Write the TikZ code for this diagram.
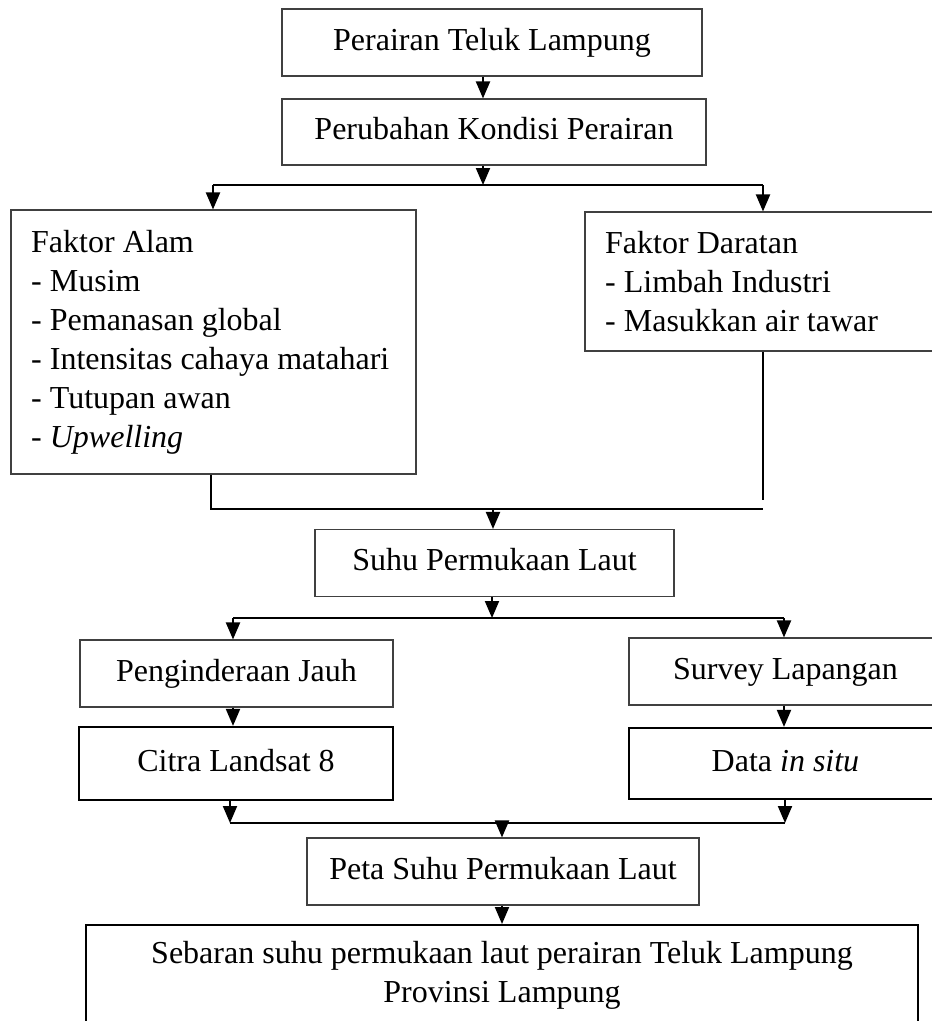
\documentclass[tikz,border=0pt]{standalone}
\usepackage{fontspec}
\setmainfont{Liberation Serif}
\usetikzlibrary{arrows.meta}
\tikzset{
  txt/.style={font=\fontsize{32pt}{39pt}\selectfont},
  thinbox/.style={txt, draw=black!75, line width=1.1pt, inner sep=0pt, text height=22pt, text depth=7pt},
  thickbox/.style={txt, draw=black, line width=2.2pt, inner sep=0pt, text height=22pt, text depth=7pt},
  plainbox/.style={draw=black!75, line width=1.1pt, inner sep=0pt},
  listtxt/.style={txt, align=left, inner sep=0pt, anchor=west},
  conn/.style={line width=2pt, draw=black},
  arr/.style={conn, -{Triangle[width=14pt,length=17pt]}},
}
\begin{document}
\begin{tikzpicture}[x=1pt,y=-1pt]
\clip (0,0) rectangle (932,1021);
\fill[white] (0,0) rectangle (932,1021);
% boxes
\node[thinbox, minimum width=420pt, minimum height=67pt] (b1) at (492,42.5) {Perairan Teluk Lampung};
\node[thinbox, minimum width=424pt, minimum height=66pt] (b2) at (494,132) {Perubahan Kondisi Perairan};
\node[plainbox, minimum width=405pt, minimum height=264pt] (alam) at (213.5,342) {};
\node[listtxt] (alamtxt) at (31,342)
  {Faktor Alam\\- Musim\\- Pemanasan global\\- Intensitas cahaya matahari\\- Tutupan awan\\- \textit{Upwelling}};
\node[plainbox, minimum width=357pt, minimum height=139pt] (darat) at (763.5,281.5) {};
\node[listtxt] (darattxt) at (605,281.5)
  {Faktor Daratan\\- Limbah Industri\\- Masukkan air tawar};
\node[thinbox, minimum width=359pt, minimum height=67pt] (suhu) at (494.5,563) {Suhu Permukaan Laut};
\node[thinbox, minimum width=313pt, minimum height=67pt] (peng) at (236.5,673.5) {Penginderaan Jauh};
\node[thickbox, minimum width=314pt, minimum height=73pt] (citra) at (236,763.5) {Citra Landsat 8};
\node[thinbox, minimum width=313pt, minimum height=67pt] (survey) at (785.5,671.5) {Survey Lapangan};
\node[thickbox, minimum width=313pt, minimum height=71pt] (data) at (785.5,763.5) {Data \textit{in situ}};
\node[thinbox, minimum width=392pt, minimum height=67pt] (peta) at (503,871.5) {Peta Suhu Permukaan Laut};
\node[thickbox, minimum width=832pt, minimum height=130pt, anchor=north] (fbox) at (502,924) {};
\node[txt, align=center, inner sep=0pt, anchor=north] (ftext) at (502,941)
  {Sebaran suhu permukaan laut perairan Teluk Lampung\\Provinsi Lampung};
% junction coordinates
\coordinate (j1) at (483,185);
\coordinate (l1L) at (213,185);
\coordinate (l1R) at (763,185);
\coordinate (l2L) at (211,509);
\coordinate (l2R) at (763,509);
\coordinate (dEnd) at (763,500);
\coordinate (j2) at (493,509);
\coordinate (j3) at (492,618);
\coordinate (l3L) at (233,618);
\coordinate (l3R) at (784,618);
\coordinate (l4L) at (230,823);
\coordinate (l4R) at (785,823);
\coordinate (j4) at (502,823);
% connectors
\draw[arr] (b1.south -| j1) -- (b2.north -| j1);
\draw[arr] (b2.south -| j1) -- (j1);
\draw[conn] (l1L) -- (l1R);
\draw[arr] (l1L) -- (alam.north -| l1L);
\draw[arr] (l1R) -- (darat.north -| l1R);
\draw[conn] (alam.south -| l2L) -- (l2L) -- (l2R);
\draw[conn] (darat.south -| dEnd) -- (dEnd);
\draw[arr] (j2) -- (suhu.north -| j2);
\draw[arr] (suhu.south -| j3) -- (j3);
\draw[conn] (l3L) -- (l3R);
\draw[arr] (l3L) -- (peng.north -| l3L);
\draw[arr] (l3R) -- (survey.north -| l3R);
\draw[arr] (peng.south -| l3L) -- (citra.north -| l3L);
\draw[arr] (survey.south -| l3R) -- (data.north -| l3R);
\draw[arr] (citra.south -| l4L) -- (l4L);
\draw[arr] (data.south -| l4R) -- (l4R);
\draw[conn] (l4L) -- (l4R);
\draw[arr] (j4) -- (peta.north -| j4);
\draw[arr] (peta.south -| j4) -- (fbox.north -| j4);
\end{tikzpicture}
\end{document}
